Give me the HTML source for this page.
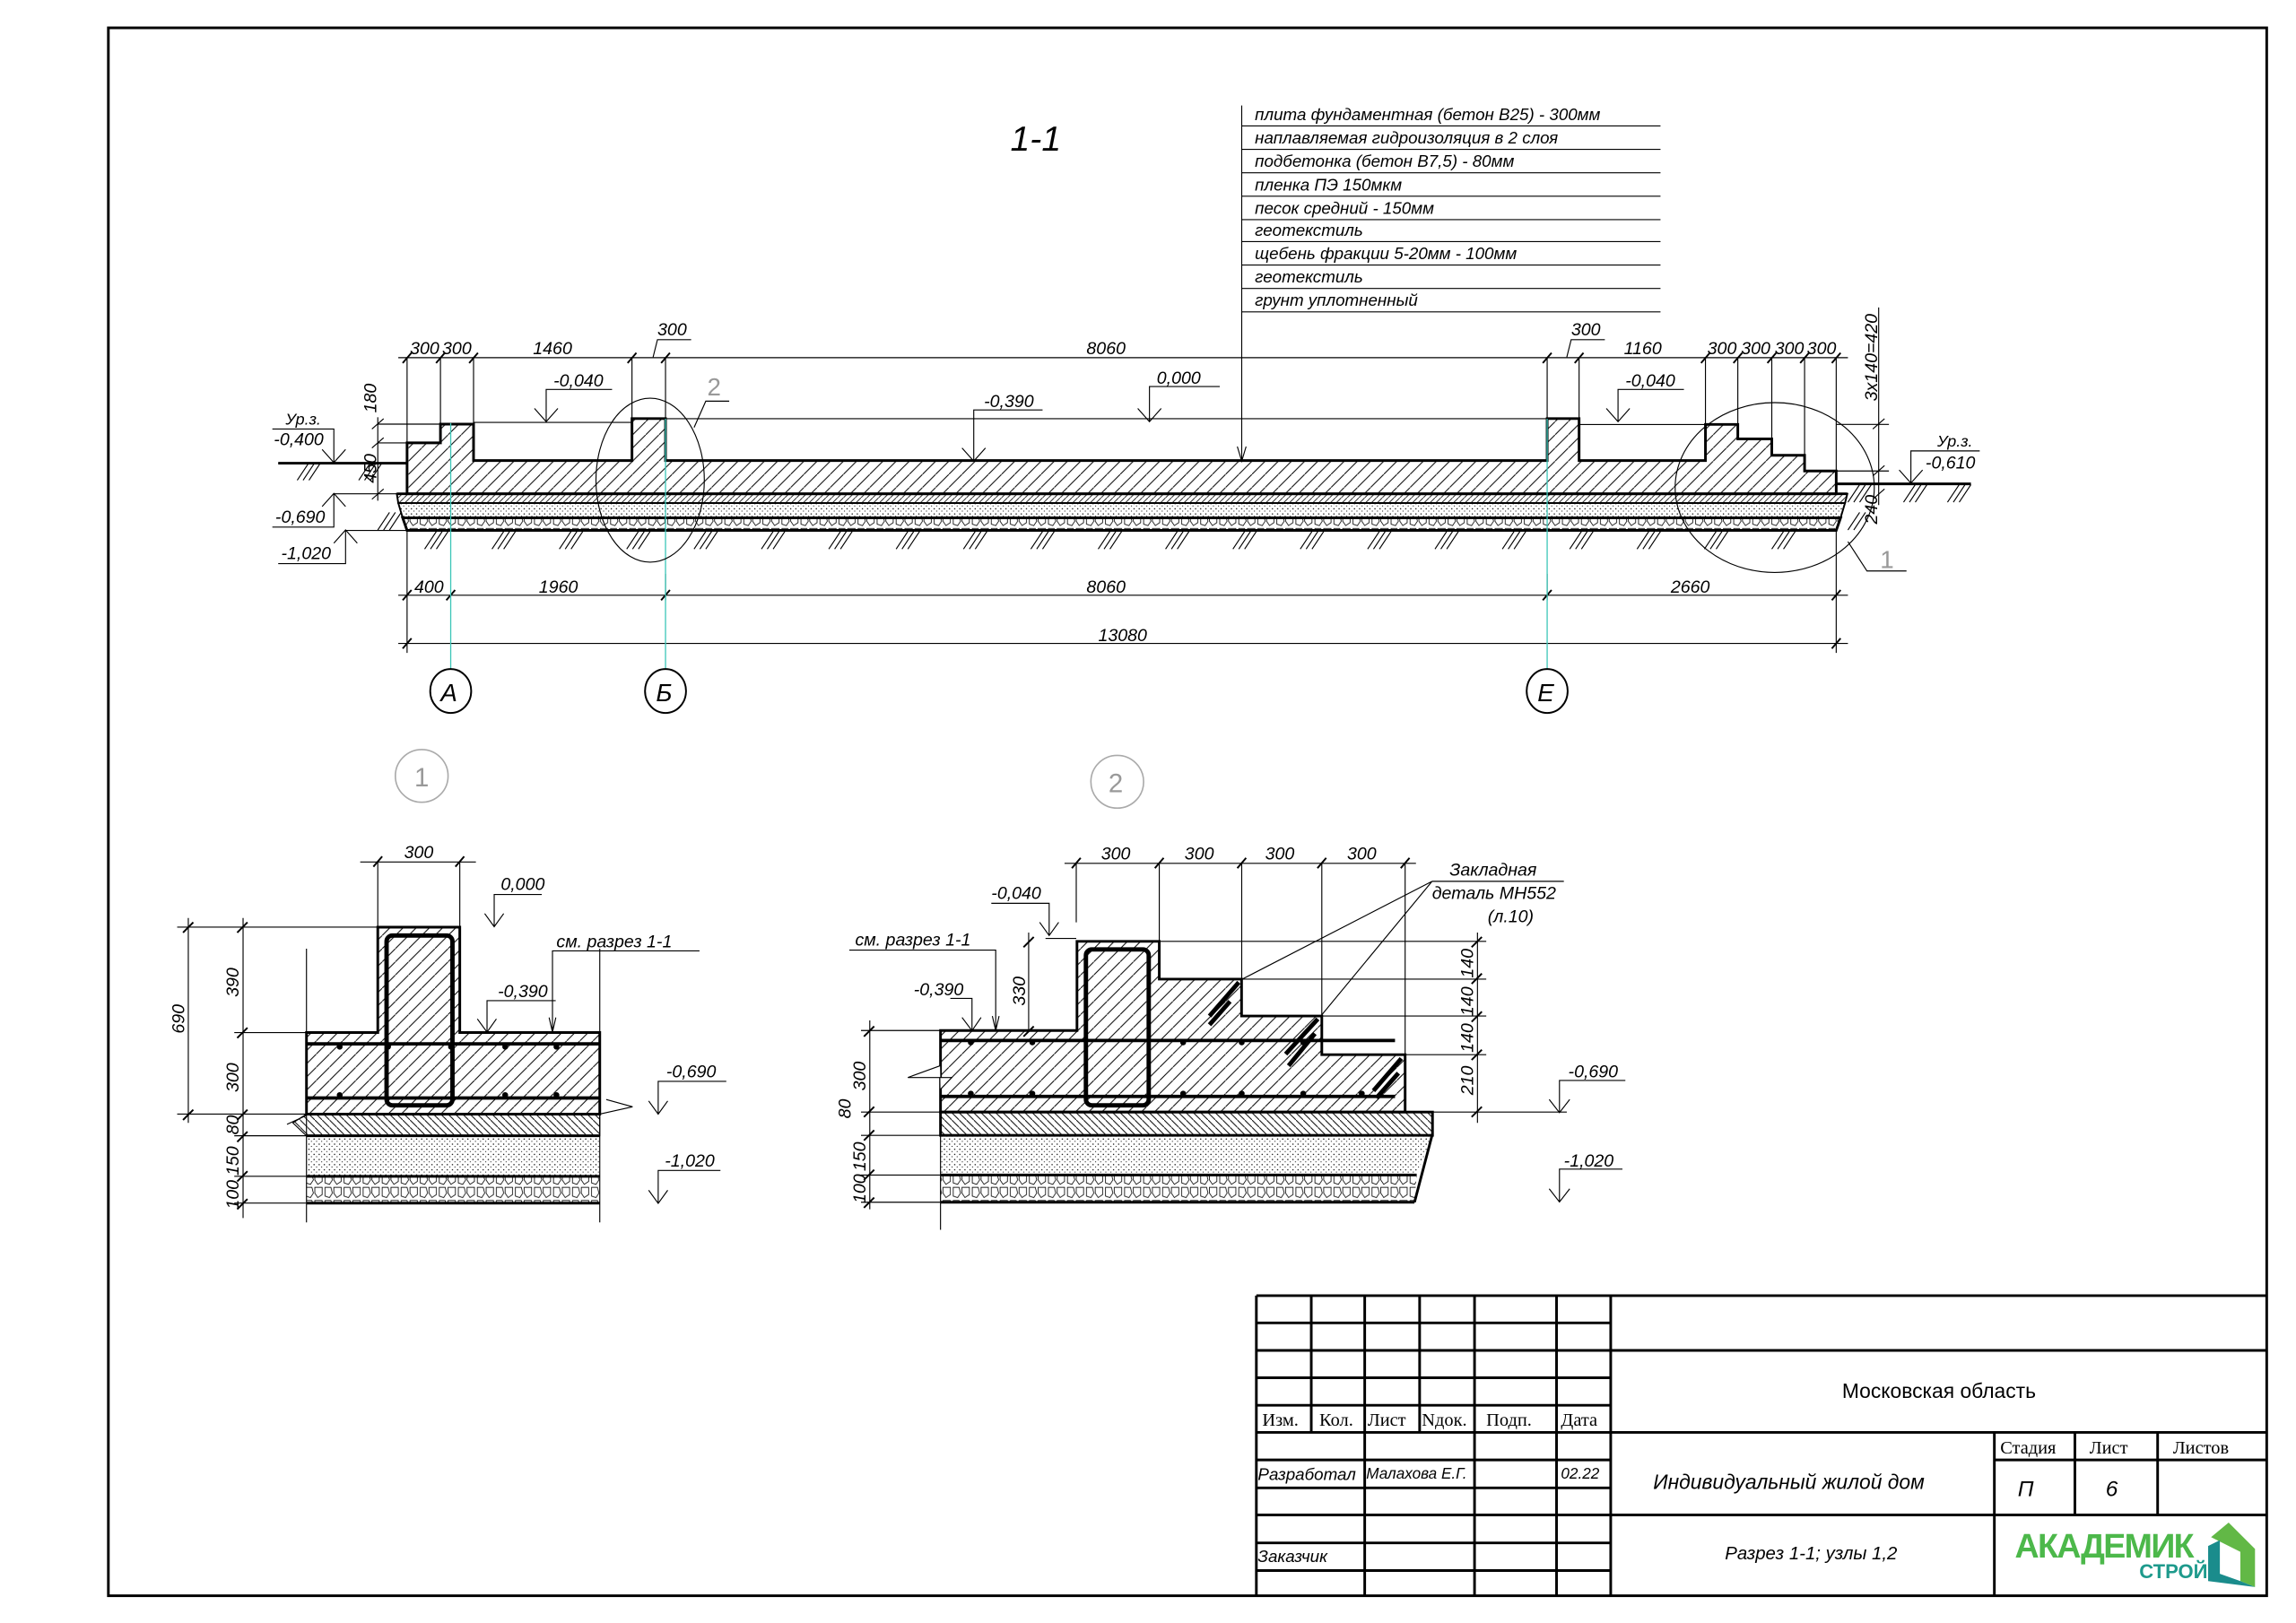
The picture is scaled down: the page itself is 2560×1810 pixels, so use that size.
<!DOCTYPE html>
<html><head><meta charset="utf-8"><style>
html,body{margin:0;padding:0;background:#fff;}
svg{display:block}
.t{stroke:#000;stroke-width:.7;fill:none}
.k{stroke:#000;stroke-width:1.8;fill:none}
.m{stroke:#000;stroke-width:1.2;fill:none}
text{font-family:"Liberation Sans","DejaVu Sans",sans-serif;font-style:italic;fill:#000}
.d{font-size:12px}
.s text{font-family:"Liberation Serif",serif;font-style:normal;font-size:12.5px}
.g text{fill:#999;font-style:normal}
</style></head><body>
<svg width="2560" height="1810" viewBox="0 0 1568 1108.6" xmlns="http://www.w3.org/2000/svg">
<defs>
<pattern id="h" patternUnits="userSpaceOnUse" width="9" height="9"><path d="M-1,10 L10,-1" stroke="#000" stroke-width=".6"/></pattern>
<pattern id="hd" patternUnits="userSpaceOnUse" width="4" height="4"><path d="M-1,5 L5,-1" stroke="#000" stroke-width=".5"/></pattern>
<pattern id="hb" patternUnits="userSpaceOnUse" width="5" height="5"><path d="M-1,-1 L6,6" stroke="#000" stroke-width=".6"/></pattern>
<pattern id="dot" patternUnits="userSpaceOnUse" width="3.5" height="3.5"><circle cx="1" cy="1" r=".45" fill="#000"/><circle cx="2.7" cy="2.6" r=".35" fill="#000"/></pattern>
<pattern id="rub" patternUnits="userSpaceOnUse" width="13" height="9"><path d="M1,1 L5,1 L6,5 L4,8 L1,7 Z M7,1 L12,1 L12,6 L9,8 L7,5 Z" stroke="#000" stroke-width=".5" fill="none"/></pattern>
</defs>
<rect x="0" y="0" width="1568" height="1108.6" fill="#fff"/>
<rect x="74" y="19" width="1474" height="1071" class="k" stroke-width="1.6"/>

<text x="690" y="103" style="font-size:24px">1-1</text>

<g class="t">
<line x1="848" y1="72" x2="848" y2="315"/>
<path d="M845,305 L848,315 L851,305"/>
<line x1="848" y1="86" x2="1134" y2="86"/><line x1="848" y1="102" x2="1134" y2="102"/><line x1="848" y1="118" x2="1134" y2="118"/><line x1="848" y1="134" x2="1134" y2="134"/><line x1="848" y1="150" x2="1134" y2="150"/><line x1="848" y1="165" x2="1134" y2="165"/><line x1="848" y1="181" x2="1134" y2="181"/><line x1="848" y1="197" x2="1134" y2="197"/><line x1="848" y1="213" x2="1134" y2="213"/>
</g>
<g style="font-size:11.5px">
<text x="857" y="82">плита фундаментная (бетон В25) - 300мм</text>
<text x="857" y="98">наплавляемая гидроизоляция в 2 слоя</text>
<text x="857" y="114">подбетонка (бетон В7,5) - 80мм</text>
<text x="857" y="130">пленка ПЭ 150мкм</text>
<text x="857" y="146">песок средний - 150мм</text>
<text x="857" y="161">геотекстиль</text>
<text x="857" y="177">щебень фракции 5-20мм - 100мм</text>
<text x="857" y="193">геотекстиль</text>
<text x="857" y="209">грунт уплотненный</text>
</g>

<!-- SECTION 1-1 -->
<polygon points="278,302.5 300.8,302.5 300.8,289.7 323.4,289.7 323.4,314.6 431.6,314.6 431.6,285.9 454.5,285.9 454.5,314.6 1056.6,314.6 1056.6,285.9 1078.4,285.9 1078.4,314.6 1164.7,314.6 1164.7,289.9 1186.8,289.9 1186.8,299.8 1210,299.8 1210,311 1232.4,311 1232.4,321.7 1254,321.7 1254,337.3 278,337.3" style="fill:url(#h)" class="k"/>
<polygon points="271,337.3 1261.6,337.3 1260,343.6 272,343.6" style="fill:url(#hd)" class="m"/>
<polygon points="272,343.6 1260,343.6 1257,353.7 275,353.7" style="fill:url(#dot)" class="m"/>
<polygon points="275,353.7 1257,353.7 1254,362.3 278,362.3" style="fill:url(#rub)" class="k"/>
<line x1="271" y1="337.3" x2="1261.6" y2="337.3" class="k"/>
<g class="t">
<path d="M290,375 l8,-12 M294,375 l8,-12 M298,375 l8,-12 M336,375 l8,-12 M340,375 l8,-12 M344,375 l8,-12 M382,375 l8,-12 M386,375 l8,-12 M390,375 l8,-12 M428,375 l8,-12 M432,375 l8,-12 M436,375 l8,-12 M474,375 l8,-12 M478,375 l8,-12 M482,375 l8,-12 M520,375 l8,-12 M524,375 l8,-12 M528,375 l8,-12 M566,375 l8,-12 M570,375 l8,-12 M574,375 l8,-12 M612,375 l8,-12 M616,375 l8,-12 M620,375 l8,-12 M658,375 l8,-12 M662,375 l8,-12 M666,375 l8,-12 M704,375 l8,-12 M708,375 l8,-12 M712,375 l8,-12 M750,375 l8,-12 M754,375 l8,-12 M758,375 l8,-12 M796,375 l8,-12 M800,375 l8,-12 M804,375 l8,-12 M842,375 l8,-12 M846,375 l8,-12 M850,375 l8,-12 M888,375 l8,-12 M892,375 l8,-12 M896,375 l8,-12 M934,375 l8,-12 M938,375 l8,-12 M942,375 l8,-12 M980,375 l8,-12 M984,375 l8,-12 M988,375 l8,-12 M1026,375 l8,-12 M1030,375 l8,-12 M1034,375 l8,-12 M1072,375 l8,-12 M1076,375 l8,-12 M1080,375 l8,-12 M1118,375 l8,-12 M1122,375 l8,-12 M1126,375 l8,-12 M1164,375 l8,-12 M1168,375 l8,-12 M1172,375 l8,-12 M1210,375 l8,-12 M1214,375 l8,-12 M1218,375 l8,-12"/>
<path d="M203,328 l8,-12 M207,328 l8,-12 M211,328 l8,-12 M245,328 l8,-12 M249,328 l8,-12 M253,328 l8,-12 M1262,343 l8,-12 M1266,343 l8,-12 M1270,343 l8,-12 M1300,343 l8,-12 M1304,343 l8,-12 M1308,343 l8,-12 M1330,343 l8,-12 M1334,343 l8,-12 M1338,343 l8,-12"/>
<path d="M258,362 l8,-12 M262,362 l8,-12 M266,362 l8,-12 M1262,362 l8,-12 M1266,362 l8,-12"/>
</g>
<line x1="190" y1="316.4" x2="278" y2="316.4" class="k"/>
<line x1="1254" y1="330.5" x2="1346" y2="330.5" class="k"/>

<g class="t">
<line x1="272" y1="244.3" x2="1262" y2="244.3"/>
<path d="M278,244 V302 M300.8,244 V289 M323.4,244 V289 M431.6,244 V286 M454.5,244 V286 M1056.6,244 V286 M1078.4,244 V286 M1164.7,244 V290 M1186.8,244 V300 M1210,244 V311 M1232.4,244 V322 M1254,244 V322"/>
<line x1="454.5" y1="286" x2="1056.6" y2="286"/>
<line x1="1078.4" y1="290" x2="1164.7" y2="290"/>
<line x1="323.4" y1="288.5" x2="431.6" y2="288.5"/>
<path d="M446,244 l3,-12 h23 M1070,244 l3,-12 h23"/>
</g>
<g class="m">
<path d="M275,248 l6,-7 M297.8,248 l6,-7 M320.4,248 l6,-7 M428.6,248 l6,-7 M451.5,248 l6,-7 M1053.6,248 l6,-7 M1075.4,248 l6,-7 M1161.7,248 l6,-7 M1183.8,248 l6,-7 M1207,248 l6,-7 M1229.4,248 l6,-7 M1251,248 l6,-7"/>
</g>
<g class="d">
<text x="280" y="242">300</text><text x="302" y="242">300</text><text x="364" y="242">1460</text><text x="449" y="229">300</text><text x="742" y="242">8060</text><text x="1073" y="229">300</text><text x="1109" y="242">1160</text><text x="1166" y="242">300</text><text x="1189" y="242">300</text><text x="1212" y="242">300</text><text x="1234" y="242">300</text>
</g>

<g class="t">
<path d="M373,288 V266 H418 M365,279 L373,288 L381,279"/>
<path d="M665,315 V280 H712 M657,306 L665,315 L673,306"/>
<path d="M785,288 V264 H833 M777,279 L785,288 L793,279"/>
<path d="M1105,288 V266 H1150 M1097,279 L1105,288 L1113,279"/>
<path d="M186,293 H228 V316 M220,307 L228,316 L236,307"/>
<path d="M186,360 H228 V337 M220,346 L228,337 L236,346"/>
<path d="M190,385 H236 V362 M228,371 L236,362 L244,371"/>
<path d="M1352,308 H1305 V330 M1297,321 L1305,330 L1313,321"/>
<line x1="228" y1="337.3" x2="271" y2="337.3"/><line x1="236" y1="362.3" x2="278" y2="362.3"/>
</g>
<g class="d">
<text x="378" y="264">-0,040</text><text x="672" y="278">-0,390</text><text x="790" y="262">0,000</text><text x="1110" y="264">-0,040</text>
<text x="195" y="290" style="font-size:11px">Ур.з.</text><text x="187" y="304">-0,400</text>
<text x="188" y="357">-0,690</text><text x="192" y="382">-1,020</text>
<text x="1323" y="305" style="font-size:11px">Ур.з.</text><text x="1315" y="320">-0,610</text>
</g>
<g class="t">
<line x1="258" y1="285" x2="258" y2="342"/>
<path d="M258,289.7 H300 M258,302.5 H278"/>
<path d="M254,293 l8,-7 M254,306 l8,-7 M254,341 l8,-7"/>
<line x1="1283" y1="210" x2="1283" y2="345"/>
<path d="M1279,293 l8,-7 M1279,325 l8,-7 M1279,341 l8,-7"/>
<path d="M1254,289.9 H1290 M1254,321.7 H1290"/>
</g>
<text class="d" transform="translate(257,282) rotate(-90)">180</text>
<text class="d" transform="translate(257,330) rotate(-90)">450</text>
<text class="d" transform="translate(1282,274) rotate(-90)">3x140=420</text>
<text class="d" transform="translate(1282,358) rotate(-90)">240</text>

<g class="t">
<line x1="272" y1="406.6" x2="1262" y2="406.6"/>
<line x1="272" y1="439.5" x2="1262" y2="439.5"/>
<path d="M278,362 V446 M454.5,392 V410 M1056.6,392 V410 M1254,362 V446"/>
</g>
<g class="m"><path d="M275,410 l6,-7 M304.8,410 l6,-7 M451.5,410 l6,-7 M1053.6,410 l6,-7 M1251,410 l6,-7 M275,443 l6,-7 M1251,443 l6,-7"/></g>
<g class="d"><text x="283" y="405">400</text><text x="368" y="405">1960</text><text x="742" y="405">8060</text><text x="1141" y="405">2660</text><text x="750" y="438">13080</text></g>
<g stroke="#3cc6b8" stroke-width=".8"><line x1="307.8" y1="289" x2="307.8" y2="457"/><line x1="454.5" y1="286" x2="454.5" y2="457"/><line x1="1056.6" y1="286" x2="1056.6" y2="457"/></g>
<g class="m" stroke-width="1"><ellipse cx="307.8" cy="472" rx="14" ry="15"/><ellipse cx="454.5" cy="472" rx="14" ry="15"/><ellipse cx="1056.6" cy="472" rx="14" ry="15"/></g>
<g style="font-size:17px"><text x="301" y="479">А</text><text x="448" y="479">Б</text><text x="1050" y="479">Е</text></g>
<g class="t"><ellipse cx="444" cy="328" rx="37" ry="56"/><ellipse cx="1212" cy="333" rx="68" ry="58"/>
<path d="M474,292 L482,274 H498 M1262,370 L1275,390 H1302"/></g>
<g class="g" style="font-size:17px"><text x="483" y="270">2</text><text x="1284" y="388">1</text></g>
<g fill="none" stroke="#aaa" stroke-width="1"><circle cx="288" cy="530" r="18"/><circle cx="763" cy="534" r="18"/></g>
<g class="g" style="font-size:18px"><text x="283" y="537">1</text><text x="757" y="541">2</text></g>

<!-- DETAIL 1 -->
<polygon points="258,633.3 314,633.3 314,705.3 409.6,705.3 409.6,761 209.3,761 209.3,705.3 258,705.3" style="fill:url(#h)" class="k" stroke-width="1.4"/>
<polygon points="200,767 209.3,761 409.6,761 409.6,775.8 209.3,775.8" style="fill:url(#hb)" class="t"/>
<path d="M196,768 L209,762 M409.6,761 L432,756 L414,751" class="t"/>
<rect x="209.3" y="775.8" width="200.3" height="27.7" style="fill:url(#dot)"/>
<rect x="209.3" y="803.5" width="200.3" height="18.3" style="fill:url(#rub)"/>
<g class="k" stroke-width="1.4"><path d="M209.3,775.8 H409.6 M209.3,803.5 H409.6 M209.3,821.8 H409.6"/></g>
<g class="t"><path d="M209.3,648 V835 M409.6,648 V835"/></g>
<g stroke="#000" stroke-width="2.3"><line x1="209.3" y1="713" x2="409.6" y2="713"/><line x1="209.3" y1="750" x2="409.6" y2="750"/></g>
<rect x="264" y="639" width="45" height="116" rx="4" fill="none" stroke="#000" stroke-width="3"/>
<g fill="#000"><circle cx="232" cy="715" r="2"/><circle cx="265" cy="715" r="2"/><circle cx="308" cy="715" r="2"/><circle cx="345" cy="715" r="2"/><circle cx="380" cy="715" r="2"/><circle cx="232" cy="748" r="2"/><circle cx="345" cy="748" r="2"/><circle cx="380" cy="748" r="2"/></g>
<g class="t">
<path d="M246,588.8 H325 M258,588.8 V633 M314,588.8 V633"/>
<path d="M121,633.3 H258 M121,761 H209 M160,705.3 H209 M160,775.8 H209 M160,803.5 H209 M160,821.8 H209"/>
<path d="M128.6,627 V767 M166,627 V832"/>
<path d="M337.5,633 V611 H370 M331,624 L337.5,633 L344,624"/>
<path d="M332.6,705 V683.5 H379.5 M326,696 L332.6,705 L339,696"/>
<path d="M377.3,705 V649.5 H477.7 M375,695 L377.3,705 L379.6,695"/>
<path d="M449.5,761 V738.6 H496 M443,752 L449.5,761 L456,752"/>
<path d="M449.5,822 V799.5 H492 M443,813 L449.5,822 L456,813"/>
</g>
<g class="m"><path d="M255,592 l6,-7 M311,592 l6,-7 M125,637 l7,-7 M125,765 l7,-7 M162,637 l7,-7 M162,709 l7,-7 M162,765 l7,-7 M162,780 l7,-7 M162,807 l7,-7 M162,826 l7,-7"/></g>
<g class="d"><text x="276" y="586">300</text><text x="342" y="608">0,000</text><text x="380" y="647">см. разрез 1-1</text><text x="340" y="681">-0,390</text><text x="455" y="736">-0,690</text><text x="454" y="797">-1,020</text></g>
<g class="d"><text transform="translate(126,706) rotate(-90)">690</text><text transform="translate(163,681) rotate(-90)">390</text><text transform="translate(163,746) rotate(-90)">300</text><text transform="translate(163,775) rotate(-90)">80</text><text transform="translate(163,803) rotate(-90)">150</text><text transform="translate(163,826) rotate(-90)">100</text></g>

<!-- DETAIL 2 -->
<polygon points="642.3,703.9 735.5,703.9 735.5,643 791.7,643 791.7,668.8 847.9,668.8 847.9,694 902.7,694 902.7,720.4 959.6,720.4 959.6,759.6 642.3,759.6" style="fill:url(#h)" class="k" stroke-width="1.4"/>
<path d="M642.3,744 L650,736 H620 L642,728" class="t" style="fill:#fff"/>
<rect x="642.3" y="759.6" width="336" height="15.9" style="fill:url(#hb)" class="k" stroke-width="1.3"/>
<polygon points="642.3,775.5 978,775.5 967.5,802.6 642.3,802.6" style="fill:url(#dot)"/>
<polygon points="642.3,802.6 967.5,802.6 966,821.2 642.3,821.2" style="fill:url(#rub)"/>
<g class="k" stroke-width="1.4"><path d="M642.3,802.6 H967.5 M642.3,821.2 H966 M978,775.5 L966,821.2"/></g>
<path d="M642.3,760 V840" class="t"/>
<g stroke="#000" stroke-width="2.3"><line x1="642.3" y1="710.7" x2="952.7" y2="710.7"/><line x1="642.3" y1="748.9" x2="952.7" y2="748.9"/></g>
<rect x="741.6" y="648.5" width="42.9" height="106.5" rx="4" fill="none" stroke="#000" stroke-width="3"/>
<g fill="#000"><circle cx="663" cy="712" r="2"/><circle cx="705" cy="712" r="2"/><circle cx="808" cy="712" r="2"/><circle cx="848" cy="712" r="2"/><circle cx="890" cy="712" r="2"/><circle cx="663" cy="747" r="2"/><circle cx="705" cy="747" r="2"/><circle cx="808" cy="747" r="2"/><circle cx="848" cy="747" r="2"/><circle cx="890" cy="747" r="2"/><circle cx="930" cy="747" r="2"/></g>
<g stroke="#000" stroke-width="3"><path d="M846,671 L826,694 M840,684 L826,700 M900,696 L878,720 M898,706 L880,728 M957,723 L938,745 M955,733 L940,750"/></g>
<g class="t">
<path d="M727,589.7 H967 M735,589.7 V630 M791.7,589.7 V643 M848,589.7 V668 M902.7,589.7 V694 M959.6,589.7 V720"/>
<path d="M791.7,643 H1015 M847.9,668.8 H1015 M902.7,694 H1015 M959.6,720.4 H1015 M978,759.6 H1070"/>
<path d="M1009,637 V767"/>
<path d="M594,697 V826 M588,703.9 H642 M588,759.6 H642 M588,775.5 H642 M588,802.6 H642 M588,821.2 H642"/>
<path d="M702.5,637 V704"/>
<path d="M716.5,639 V617 H677 M710,630 L716.5,639 L723,630 M714,641 H735"/>
<path d="M680,704 V649 H580 M677.7,694 L680,704 L682.3,694"/>
<path d="M663.8,704 V682 H649 M657,695 L663.8,704 L670,695"/>
<path d="M1065,760 V738 H1110 M1058,751 L1065,760 L1072,751"/>
<path d="M1065,821 V798.6 H1108 M1058,812 L1065,821 L1072,812"/>
<path d="M978,602 H1068 M978,602 L848,669 M978,602 L902,694"/>
</g>
<g class="m"><path d="M732,593 l6,-7 M788.7,593 l6,-7 M845,593 l6,-7 M899.7,593 l6,-7 M956.6,593 l6,-7 M1005,647 l7,-7 M1005,672 l7,-7 M1005,698 l7,-7 M1005,724 l7,-7 M1005,763 l7,-7 M590,708 l7,-7 M590,763 l7,-7 M590,779 l7,-7 M590,806 l7,-7 M590,825 l7,-7 M699,647 l7,-7 M699,708 l7,-7"/></g>
<g class="d"><text x="752" y="587">300</text><text x="809" y="587">300</text><text x="864" y="587">300</text><text x="920" y="587">300</text>
<text x="990" y="598">Закладная</text><text x="978" y="614">деталь МН552</text><text x="1016" y="630">(л.10)</text>
<text x="677" y="614">-0,040</text><text x="584" y="646">см. разрез 1-1</text><text x="624" y="680">-0,390</text><text x="1071" y="736">-0,690</text><text x="1068" y="797">-1,020</text></g>
<g class="d"><text transform="translate(1006,668) rotate(-90)">140</text><text transform="translate(1006,694) rotate(-90)">140</text><text transform="translate(1006,719) rotate(-90)">140</text><text transform="translate(1006,748) rotate(-90)">210</text>
<text transform="translate(700,687) rotate(-90)">330</text><text transform="translate(591,745) rotate(-90)">300</text><text transform="translate(581,764) rotate(-90)">80</text><text transform="translate(591,800) rotate(-90)">150</text><text transform="translate(591,822) rotate(-90)">100</text></g>

<!-- TITLE BLOCK -->
<g class="k" stroke-width="1.5">
<path d="M858,885 H1548 M858,885 V1090 M1100,885 V1090"/>
<path d="M895.5,885 V978.4 M969.5,885 V978.4 M932,885 V1090 M1007,885 V1090 M1063,885 V1090"/>
<path d="M858,903.6 H1100 M858,922.4 H1100 M858,941.1 H1100 M858,959.9 H1100 M858,978.4 H1100 M858,997.2 H1100 M858,1016.3 H1100 M858,1034.8 H1100 M858,1053.9 H1100 M858,1072.8 H1100"/>
<path d="M1100,922.4 H1548 M1100,978.4 H1548 M1100,1034.8 H1548 M1362,997.2 H1548 M1362,978.4 V1090 M1417,978.4 V1034.8 M1473.5,978.4 V1034.8"/>
</g>
<g class="s"><text x="862" y="974">Изм.</text><text x="901" y="974">Кол.</text><text x="934" y="974">Лист</text><text x="971" y="974">Nдок.</text><text x="1015" y="974">Подп.</text><text x="1066" y="974">Дата</text>
<text x="1366" y="993">Стадия</text><text x="1427" y="993">Лист</text><text x="1484" y="993">Листов</text></g>
<g style="font-size:11.5px"><text x="859" y="1011">Разработал</text><text x="933" y="1010" style="font-size:10.5px">Малахова Е.Г.</text><text x="1066" y="1010" style="font-size:10.5px">02.22</text><text x="859" y="1067">Заказчик</text></g>
<text x="1258" y="955" style="font-size:14px;font-style:normal">Московская область</text>
<text x="1129" y="1017" style="font-size:14px">Индивидуальный жилой дом</text>
<text x="1178" y="1065" style="font-size:12.5px">Разрез 1-1; узлы 1,2</text>
<text x="1378" y="1022" style="font-size:15px">П</text><text x="1438" y="1022" style="font-size:15px">6</text>
<text x="1376" y="1064" style="font-size:23px;font-style:normal;font-weight:bold;letter-spacing:-1px;fill:#4cb84a">АКАДЕМИК</text>
<text x="1461" y="1078" style="font-size:13.5px;font-style:normal;font-weight:bold;fill:#1e9a8c">СТРОЙ</text>
<polygon points="1510,1050 1522,1040 1540,1058 1540,1084 1530,1080 1530,1060" fill="#62b846"/>
<polygon points="1508,1056 1516,1052 1516,1075 1530,1080 1540,1084 1508,1080" fill="#1a8c8c"/>
</svg>
</body></html>
